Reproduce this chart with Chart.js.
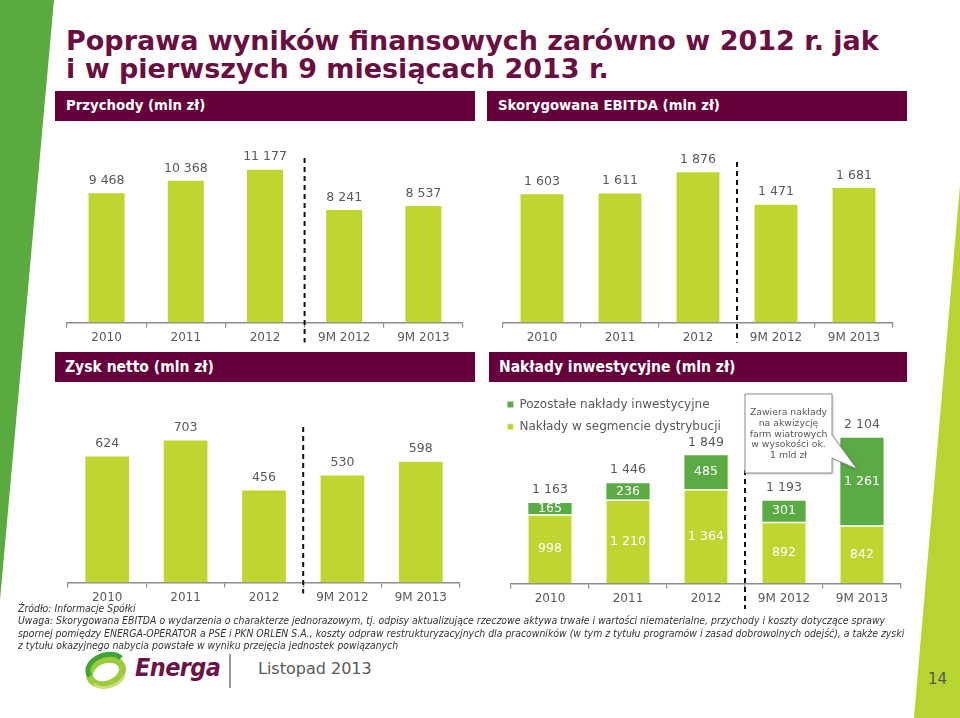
<!DOCTYPE html>
<html lang="pl">
<head>
<meta charset="utf-8">
<title>Poprawa wyników finansowych</title>
<script src="https://cdn.jsdelivr.net/npm/chart.js@4.4.0/dist/chart.umd.min.js"></script>
<style>
  body { margin: 0; }
  #slide { position: relative; width: 960px; height: 718px; overflow: hidden; background: #fff;
           font-family: 'DejaVu Sans', Verdana, sans-serif; }
  #slide svg.bg { position: absolute; left: 0; top: 0; }
  canvas { position: absolute; }
  h1 { position: absolute; left: 66px; top: 27px; margin: 0; font-size: 27px; line-height: 28px;
       color: #6a0f3f; font-weight: bold; white-space: nowrap; }
  .head { position: absolute; height: 30px; background: #66003a; color: #fff; font-weight: bold;
          line-height: 30px; padding-left: 11px; box-sizing: border-box; white-space: nowrap; }
  .head.top { top: 91px; font-size: 13.3px; }
  .head.low { top: 352px; font-size: 15.5px; font-family: 'DejaVu Sans Condensed', 'DejaVu Sans', sans-serif;
              font-stretch: condensed; padding-left: 10px; }
  #notes { position: absolute; left: 18px; top: 602px; font-size: 10.4px; line-height: 12.3px; color: #333;
           font-style: italic; font-family: 'DejaVu Sans Condensed', 'DejaVu Sans', sans-serif;
           font-stretch: condensed; white-space: nowrap; }
  #brand { position: absolute; left: 135px; top: 653px; font-size: 25px; font-weight: bold; font-style: italic;
           letter-spacing: -0.6px; color: #6b1547;
           font-family: 'DejaVu Sans Condensed', 'DejaVu Sans', sans-serif; font-stretch: condensed; }
  #date { position: absolute; left: 258px; top: 659px; font-size: 16px; color: #595959; }
  #page { position: absolute; left: 928px; top: 670px; font-size: 15px; color: #595959; }
</style>
</head>
<body>
<div id="slide">
  <svg class="bg" width="960" height="718">
    <polygon points="0,0 54,0 0,600" fill="#5aab3f"/>
    <polygon points="960,185 960,718 914,718" fill="#b8d431"/>
    <ellipse cx="106" cy="672" rx="17" ry="12" fill="none" stroke="#9ccb3b" stroke-width="7" transform="rotate(-20 106 672)"/>
    <path d="M90 676 A17 11 -20 0 1 121 658" fill="none" stroke="#3fa535" stroke-width="5"/>
    <path d="M94 684 A17 11 -20 0 0 124 676" fill="none" stroke="#c7e07a" stroke-width="3"/>
    <rect x="229" y="654" width="2" height="34" fill="#999"/>
  </svg>

  <h1>Poprawa wyników finansowych zarówno w 2012 r. jak<br>i w pierwszych 9 miesiącach 2013 r.</h1>

  <div class="head top" style="left:55px;width:420px">Przychody (mln zł)</div>
  <div class="head top" style="left:487px;width:420px">Skorygowana EBITDA (mln zł)</div>
  <div class="head low" style="left:55px;width:420px">Zysk netto (mln zł)</div>
  <div class="head low" style="left:489px;width:418px">Nakłady inwestycyjne (mln zł)</div>

  <canvas id="revenue" width="420" height="218" style="left:55px;top:130px"></canvas>
  <canvas id="ebitda" width="420" height="218" style="left:487px;top:130px"></canvas>
  <canvas id="profit" width="420" height="218" style="left:55px;top:390px"></canvas>
  <canvas id="capex" width="418" height="221" style="left:489px;top:388px"></canvas>

  <div id="notes">Źródło: Informacje Spółki<br>Uwaga: Skorygowana EBITDA o wydarzenia o charakterze jednorazowym, tj. odpisy aktualizujące rzeczowe aktywa trwałe i wartości niematerialne, przychody i koszty dotyczące sprawy<br>spornej pomiędzy ENERGA-OPERATOR a PSE i PKN ORLEN S.A., koszty odpraw restrukturyzacyjnych dla pracowników (w tym z tytułu programów i zasad dobrowolnych odejść), a także zyski<br>z tytułu okazyjnego nabycia powstałe w wyniku przejęcia jednostek powiązanych</div>

  <div id="brand">Energa</div>
  <div id="date">Listopad 2013</div>
  <div id="page">14</div>
</div>

<script>
const periods = ['2010', '2011', '2012', '9M 2012', '9M 2013'];
const revenue = [9468, 10368, 11177, 8241, 8537];
const ebitda = [1603, 1611, 1876, 1471, 1681];
const netProfit = [624, 703, 456, 530, 598];
const capexDistribution = [998, 1210, 1364, 892, 842];
const capexOther = [165, 236, 485, 301, 1261];
const capexTotal = [1163, 1446, 1849, 1193, 2104];
const calloutLines = ['Zawiera nakłady', 'na akwizycję', 'farm wiatrowych', 'w wysokości ok.', '1 mld zł'];

const LIME = '#bfd631';
const GREEN = '#5aab44';
const GREY = '#595959';

Chart.defaults.font.family = "'DejaVu Sans', sans-serif";
Chart.defaults.color = GREY;

const fmt = v => String(v).replace(/\B(?=(\d{3})+(?!\d))/g, ' ');

// numbers above the bars (and inside the stacked segments)
const valueLabels = {
  id: 'valueLabels',
  afterDatasetsDraw(chart, args, opts) {
    const ctx = chart.ctx;
    const sets = chart.data.datasets;
    ctx.save();
    ctx.font = "12.5px 'DejaVu Sans'";
    ctx.textAlign = 'center';
    ctx.textBaseline = 'middle';
    if (opts.inside) {
      ctx.fillStyle = '#fff';
      sets.forEach((ds, i) => {
        chart.getDatasetMeta(i).data.forEach((bar, j) => {
          ctx.fillText(fmt(ds.data[j]), bar.x, (bar.y + bar.base) / 2);
        });
      });
    }
    const totals = opts.totals || sets[0].data;
    ctx.fillStyle = GREY;
    chart.getDatasetMeta(sets.length - 1).data.forEach((bar, j) => {
      ctx.fillText(fmt(totals[j]), bar.x, bar.y - opts.gap);
    });
    ctx.restore();
  }
};

// dashed separator between full years and 9M periods
const divider = {
  id: 'divider',
  afterDraw(chart, args, opts) {
    const {ctx, chartArea, scales: {x}} = chart;
    const px = (x.getPixelForValue(2) + x.getPixelForValue(3)) / 2;
    ctx.save();
    ctx.strokeStyle = '#111';
    ctx.lineWidth = 2;
    ctx.setLineDash([5, 4]);
    ctx.beginPath();
    ctx.moveTo(px, chartArea.top + opts.from);
    ctx.lineTo(px, chartArea.bottom + opts.below);
    ctx.stroke();
    ctx.restore();
  }
};

// speech bubble pointing at the 9M 2013 capex bar
const callout = {
  id: 'callout',
  afterDraw(chart, args, opts) {
    const {ctx, chartArea, scales: {x, y}} = chart;
    const left = (x.getPixelForValue(2) + x.getPixelForValue(3)) / 2;
    const right = left + opts.width;
    const top = chartArea.top + opts.top;
    const bottom = top + opts.height;
    const bar = chart.getDatasetMeta(1).data[opts.index];
    const tipX = bar.x - 5;
    const tipY = y.getPixelForValue(opts.value);
    ctx.save();
    ctx.beginPath();
    ctx.moveTo(left, top);
    ctx.lineTo(right, top);
    ctx.lineTo(right, top + 41);
    ctx.lineTo(tipX, tipY);
    ctx.lineTo(right, top + 64);
    ctx.lineTo(right, bottom);
    ctx.lineTo(left, bottom);
    ctx.closePath();
    ctx.shadowColor = 'rgba(0,0,0,0.25)';
    ctx.shadowBlur = 3;
    ctx.shadowOffsetX = 1;
    ctx.shadowOffsetY = 1;
    ctx.fillStyle = '#fff';
    ctx.fill();
    ctx.shadowColor = 'transparent';
    ctx.strokeStyle = '#8c8c8c';
    ctx.lineWidth = 1;
    ctx.stroke();
    ctx.font = "9.3px 'DejaVu Sans'";
    ctx.fillStyle = GREY;
    ctx.textAlign = 'center';
    ctx.textBaseline = 'middle';
    opts.lines.forEach((t, i) => ctx.fillText(t, (left + right) / 2, top + 18.5 + i * 10.8));
    ctx.restore();
  }
};

// pull the in-chart legend a bit to the left, as on the slide
const legendShift = {
  id: 'legendShift',
  afterLayout(chart, args, opts) {
    if (chart.legend) {
      chart.legend.left -= opts.dx;
      chart.legend.right -= opts.dx;
    }
  }
};

function makeChart(id, cfg) {
  return new Chart(document.getElementById(id), {
    type: 'bar',
    data: { labels: periods, datasets: cfg.datasets },
    options: {
      responsive: false,
      animation: false,
      layout: { padding: cfg.padding },
      plugins: Object.assign({
        legend: { display: false },
        tooltip: { enabled: false },
        valueLabels: cfg.labels,
        divider: cfg.divider
      }, cfg.plugins || {}),
      scales: {
        x: {
          stacked: true,
          grid: { drawOnChartArea: false, tickLength: 5, color: '#8c8c8c', lineWidth: 1.2 },
          border: { color: '#8c8c8c', width: 1.5 },
          ticks: { color: GREY, font: { size: 12 }, padding: 3, autoSkip: false, maxRotation: 0 }
        },
        y: { display: false, stacked: true, min: 0, max: cfg.max }
      }
    },
    plugins: [valueLabels, divider].concat(cfg.extra || [])
  });
}

makeChart('revenue', {
  datasets: [{ data: revenue, backgroundColor: LIME, categoryPercentage: 1, barPercentage: 0.455 }],
  padding: { left: 12, right: 12, top: 30 },
  max: 11895,
  labels: { gap: 12.6 },
  divider: { from: -2, below: 20 }
});

makeChart('ebitda', {
  datasets: [{ data: ebitda, backgroundColor: LIME, categoryPercentage: 1, barPercentage: 0.55 }],
  padding: { left: 16, right: 14, top: 30 },
  max: 2030,
  labels: { gap: 12.6 },
  divider: { from: 2, below: 20 }
});

makeChart('profit', {
  datasets: [{ data: netProfit, backgroundColor: LIME, categoryPercentage: 1, barPercentage: 0.557 }],
  padding: { left: 13, right: 15, top: 30 },
  max: 805,
  labels: { gap: 12.6 },
  divider: { from: 7, below: 11 }
});

makeChart('capex', {
  datasets: [
    { label: 'Nakłady w segmencie dystrybucji', data: capexDistribution, backgroundColor: LIME,
      borderColor: '#fff', borderWidth: { top: 1.5 }, borderSkipped: false,
      categoryPercentage: 1, barPercentage: 0.555 },
    { label: 'Pozostałe nakłady inwestycyjne', data: capexOther, backgroundColor: GREEN,
      categoryPercentage: 1, barPercentage: 0.555 }
  ],
  padding: { left: 22, right: 6, top: 0 },
  max: 2818,
  labels: { gap: 13, inside: true, totals: capexTotal },
  divider: { from: 82, below: 26 },
  plugins: {
    legend: {
      display: true, position: 'chartArea', align: 'start', reverse: true,
      labels: { boxWidth: 6, boxHeight: 6, padding: 10.4, color: GREY, font: { size: 12 } }
    },
    legendShift: { dx: 14 },
    callout: { top: 6, height: 79, width: 87, index: 4, value: 1651, lines: calloutLines }
  },
  extra: [callout, legendShift]
});
</script>
</body>
</html>
